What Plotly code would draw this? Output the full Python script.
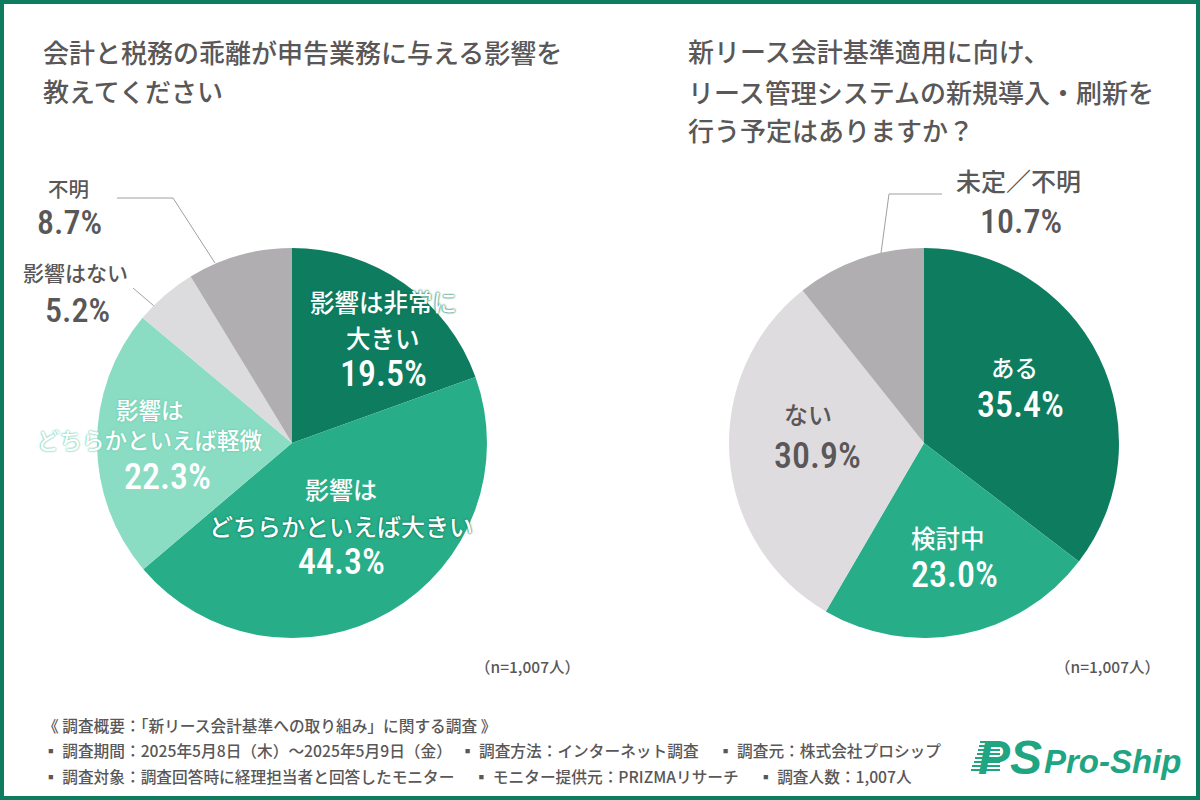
import plotly.graph_objects as go

LEFT_LABELS = ["影響は非常に大きい", "影響はどちらかといえば大きい", "影響はどちらかといえば軽微", "影響はない", "不明"]
LEFT_VALUES = [19.5, 44.3, 22.3, 5.2, 8.7]
LEFT_COLORS = ["#0E7C5E", "#28AD89", "#8ADCC3", "#DCDCDE", "#B0AEB1"]

RIGHT_LABELS = ["ある", "検討中", "ない", "未定／不明"]
RIGHT_VALUES = [35.4, 23.0, 30.9, 10.7]
RIGHT_COLORS = ["#0E7C5E", "#28AD89", "#DFDCDF", "#B0AEB1"]

LEFT_TITLE = ["会計と税務の乖離が申告業務に与える影響を", "教えてください"]
RIGHT_TITLE = ["新リース会計基準適用に向け、", "リース管理システムの新規導入・刷新を", "行う予定はありますか？"]
FOOT_LINES = [
    "《 調査概要：「新リース会計基準への取り組み」に関する調査 》",
    "▪ 調査期間：2025年5月8日（木）～2025年5月9日（金）　▪ 調査方法：インターネット調査　 ▪ 調査元：株式会社プロシップ",
    "▪ 調査対象：調査回答時に経理担当者と回答したモニター　 ▪ モニター提供元：PRIZMAリサーチ　 ▪ 調査人数：1,007人",
]

W, H = 1200, 800
JP = "Noto Sans CJK JP Medium, Noto Sans CJK JP"
NUM = "Roboto Condensed, Roboto"
GRAY = "#595757"
GREEN = "#0E7C5E"
LOGO = "#1FA582"


def px(x):
    return x / W


def py(y):
    return 1 - y / H


def note(x, y, text, size, color=GRAY, font=JP, anchor="center", shadow=None, weight=500):
    fnt = dict(family=font, size=size, color=color, weight=weight)
    if shadow:
        fnt["shadow"] = shadow
    fig.add_annotation(x=px(x), y=py(y), xref="paper", yref="paper", text=text, showarrow=False,
                       font=fnt, xanchor=anchor, yanchor="middle", align=anchor)


def leader(points):
    fig.add_trace(go.Scatter(x=[p[0] for p in points], y=[p[1] for p in points], mode="lines",
                             line=dict(color="#9FA0A0", width=1), hoverinfo="skip", showlegend=False,
                             xaxis="x", yaxis="y"))


def pct(v):
    return f"{v:.1f}%"


fig = go.Figure()

fig.add_trace(go.Pie(labels=LEFT_LABELS, values=LEFT_VALUES, sort=False, direction="clockwise", rotation=0,
                     marker=dict(colors=LEFT_COLORS), textinfo="none", showlegend=False,
                     domain=dict(x=[px(97), px(487)], y=[py(638), py(248)])))
fig.add_trace(go.Pie(labels=RIGHT_LABELS, values=RIGHT_VALUES, sort=False, direction="clockwise", rotation=0,
                     marker=dict(colors=RIGHT_COLORS), textinfo="none", showlegend=False,
                     domain=dict(x=[px(729), px(1119)], y=[py(638), py(248)])))

leader([(117, 198), (173, 198), (215, 263)])
leader([(133, 288), (167, 317)])
leader([(881, 253), (889, 194), (942, 194)])

# titles
for y, line in zip([52, 90], LEFT_TITLE):
    note(41, y, line, 26, anchor="left")
for y, line in zip([51, 91, 129], RIGHT_TITLE):
    note(686, y, line, 26, anchor="left")

# left pie labels
glow_dark = "0 0 2px #0E7C5E, 0 0 2px #0E7C5E"
glow_light = "0 0 2px #6CCDB0, 0 0 2px #6CCDB0"
note(383, 302, "影響は非常に", 24.5, "#FFFFFF", shadow=glow_dark)
note(383, 337, "大きい", 24.5, "#FFFFFF")
note(383, 374, pct(LEFT_VALUES[0]), 36, "#FFFFFF", NUM)
note(341, 488, "影響は", 24, "#FFFFFF")
note(341, 525, "どちらかといえば大きい", 24, "#FFFFFF", shadow=glow_dark)
note(341, 562, pct(LEFT_VALUES[1]), 36, "#FFFFFF", NUM)
note(150, 409, "影響は", 22.5, "#FFFFFF", shadow=glow_light)
note(150, 439, "どちらかといえば軽微", 22.5, "#FFFFFF", shadow=glow_light)
note(167, 477, pct(LEFT_VALUES[2]), 36, "#FFFFFF", NUM)
note(75, 272, "影響はない", 21)
note(77, 310, pct(LEFT_VALUES[3]), 34, GRAY, NUM)
note(68, 188, "不明", 20.5)
note(69, 222, pct(LEFT_VALUES[4]), 34, GRAY, NUM)

# right pie labels
note(1014, 367, "ある", 23.5, "#FFFFFF")
note(1020, 405, pct(RIGHT_VALUES[0]), 36, "#FFFFFF", NUM)
note(948, 537, "検討中", 24.5, "#FFFFFF")
note(955, 575, pct(RIGHT_VALUES[1]), 36, "#FFFFFF", NUM)
note(808, 414, "ない", 24)
note(817, 456, pct(RIGHT_VALUES[2]), 36, GRAY, NUM)
note(1018, 180, "未定／不明", 25)
note(1021, 221, pct(RIGHT_VALUES[3]), 34, GRAY, NUM)

note(527, 666, "（n=1,007人）", 15.5)
note(1107, 666, "（n=1,007人）", 15.5)

# survey notes
for y, line in zip([725, 750, 776], FOOT_LINES):
    note(41, y, line, 15.7, anchor="left")

# logo
logo_stripes = [
    dict(type="line", xref="paper", yref="paper", x0=px(x0), x1=px(1000), y0=py(y), y1=py(y),
         line=dict(color=LOGO, width=2))
    for x0, y in [(980, 742), (979, 746), (978, 750), (977, 754), (975, 758), (974, 762), (972, 766), (971, 770)]
]
note(1010, 757, "<i>PS</i>", 48, LOGO, "Liberation Sans", weight=700)
note(1042, 761, "<i>Pro-Ship</i>", 33, LOGO, "Liberation Sans", anchor="left", weight=700)

fig.update_layout(
    width=W, height=H,
    margin=dict(l=0, r=0, t=0, b=0),
    paper_bgcolor="#FFFFFF",
    plot_bgcolor="rgba(0,0,0,0)",
    font=dict(family=JP, color=GRAY),
    xaxis=dict(range=[0, W], visible=False, domain=[0, 1], fixedrange=True),
    yaxis=dict(range=[H, 0], visible=False, domain=[0, 1], fixedrange=True),
    shapes=[dict(type="rect", xref="paper", yref="paper", x0=0, y0=0, x1=1, y1=1,
                 line=dict(color=GREEN, width=8), fillcolor="rgba(0,0,0,0)")] + logo_stripes,
)

fig.write_html("out.html", post_script="document.body.style.margin='0';", config=dict(displayModeBar=False))
